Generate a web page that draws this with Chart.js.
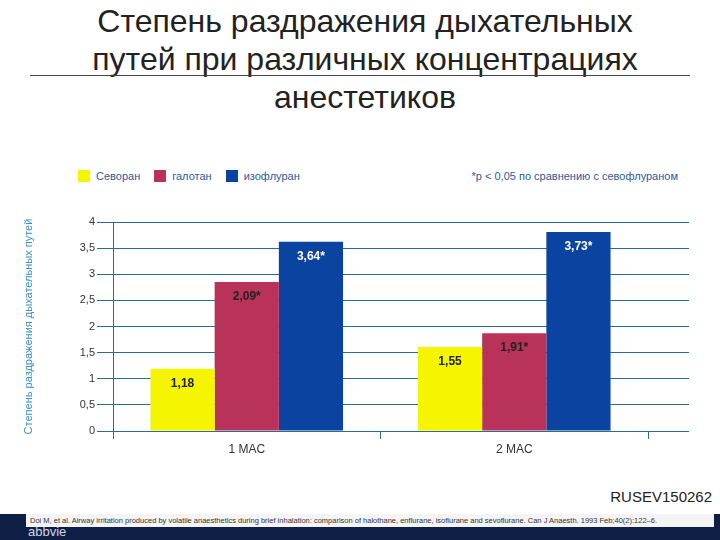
<!DOCTYPE html>
<html><head><meta charset="utf-8">
<script src="https://cdn.jsdelivr.net/npm/chart.js@4"></script>
<style>
body{margin:0;width:720px;height:540px;position:relative;background:#fff;font-family:"Liberation Sans",Arial,sans-serif;overflow:hidden}
#title{position:absolute;left:0;width:730px;top:2px;text-align:center;font-size:32px;line-height:38px;color:#222}
#rule{position:absolute;left:30px;width:660px;top:75px;border-top:1px solid #444}
#legend{position:absolute;top:170px;left:78px;font-size:11px;color:#2a5aa0;display:flex;gap:14px;align-items:center}
#legend span.b{display:inline-block;width:12px;height:12px;margin-right:6px;vertical-align:-2px}
#note{position:absolute;top:170px;right:42px;font-size:11px;color:#2a5aa0}
#wrap{position:absolute;left:0;top:205px;width:720px;height:265px}
#code{position:absolute;right:8px;top:488px;font-size:15px;color:#222}
#foot{position:absolute;left:0;top:514px;width:720px;height:26px;background:#0e1e45}
#cite{position:absolute;left:26px;top:514px;width:684px;height:13px;background:#f4f4f4;font-size:7.5px;line-height:13px;color:#333;padding-left:4px;white-space:nowrap;overflow:hidden}
#abbvie{position:absolute;left:28px;top:524px;font-size:13px;color:#cfd6e6}
</style></head><body>
<div id="title">Степень раздражения дыхательных<br>путей при различных концентрациях<br>анестетиков</div>
<div id="rule"></div>
<div id="legend"></div>
<div id="note">*p &lt; 0,05 по сравнению с севофлураном</div>
<div id="wrap"><canvas id="c"></canvas></div>
<div id="code">RUSEV150262</div>
<div id="foot"></div>
<div id="abbvie">abbvie</div>
<div id="cite">Doi M, et al. Airway irritation produced by volatile anaesthetics during brief inhalation: comparison of halothane, enflurane, isoflurane and sevoflurane. Can J Anaesth. 1993 Feb;40(2):122–6.</div>
<script>
const categories = ['1 MAC', '2 MAC'];
const seriesNames = ['Севоран', 'галотан', 'изофлуран'];
const sevoran = [1.19, 1.61];
const halothane = [2.85, 1.87];
const isoflurane = [3.62, 3.81];
const sevoranLabels = ['1,18', '1,55'];
const halothaneLabels = ['2,09*', '1,91*'];
const isofluraneLabels = ['3,64*', '3,73*'];
const yTicks = ['0', '0,5', '1', '1,5', '2', '2,5', '3', '3,5', '4'];
const colors = ['#f5f500', '#b8325a', '#0a44a0'];
const labelColors = ['#222', '#222', '#fff'];

const leg = document.getElementById('legend');
seriesNames.forEach((n, i) => {
  const s = document.createElement('span');
  s.innerHTML = '<span class="b" style="background:' + colors[i] + '"></span>' + n;
  leg.appendChild(s);
});

const valueLabels = {
  id: 'valueLabels',
  afterDatasetsDraw(chart) {
    const ctx = chart.ctx;
    const texts = [sevoranLabels, halothaneLabels, isofluraneLabels];
    chart.data.datasets.forEach((ds, di) => {
      chart.getDatasetMeta(di).data.forEach((bar, i) => {
        ctx.save();
        ctx.font = 'bold 12px "Liberation Sans Narrow", Arial';
        ctx.fillStyle = labelColors[di];
        ctx.textAlign = 'center';
        ctx.fillText(texts[di][i], bar.x, bar.y + 18);
        ctx.restore();
      });
    });
  }
};

const gridColor = '#2a6f8a';

new Chart(document.getElementById('c'), {
  type: 'bar',
  data: {
    labels: categories,
    datasets: [
      { label: seriesNames[0], data: sevoran, backgroundColor: colors[0] },
      { label: seriesNames[1], data: halothane, backgroundColor: colors[1] },
      { label: seriesNames[2], data: isoflurane, backgroundColor: colors[2] },
    ],
  },
  options: {
    responsive: true, maintainAspectRatio: false, animation: false,
    layout: { padding: { top: 17, right: 31, left: 22, bottom: 0 } },
    datasets: { bar: { categoryPercentage: 0.72, barPercentage: 1 } },
    plugins: { legend: { display: false }, tooltip: { enabled: false } },
    scales: {
      x: {
        afterFit: s => { s.height = 39; },
        grid: { drawOnChartArea: false, tickLength: 8, color: gridColor },
        border: { color: gridColor },
        ticks: { color: '#333', font: { size: 12 } },
      },
      y: {
        min: 0, max: 4,
        afterFit: s => { s.width = 91; },
        grid: { color: gridColor, tickLength: 16 },
        border: { color: gridColor },
        ticks: { stepSize: 0.5, color: '#333', font: { size: 11 }, padding: 2,
          callback: (v, i) => yTicks[i] },
        title: { display: true, text: 'Степень раздражения дыхательных путей', color: '#3a8fc8', font: { size: 11 }, padding: 0 },
      },
      y2: {
        position: 'right', min: 0, max: 4,
        afterFit: s => { s.width = 41; },
        grid: { drawOnChartArea: false, tickLength: 41, color: gridColor },
        border: { display: false },
        ticks: { stepSize: 0.5, display: false },
      },
    },
  },
  plugins: [valueLabels],
});
</script>
</body></html>
